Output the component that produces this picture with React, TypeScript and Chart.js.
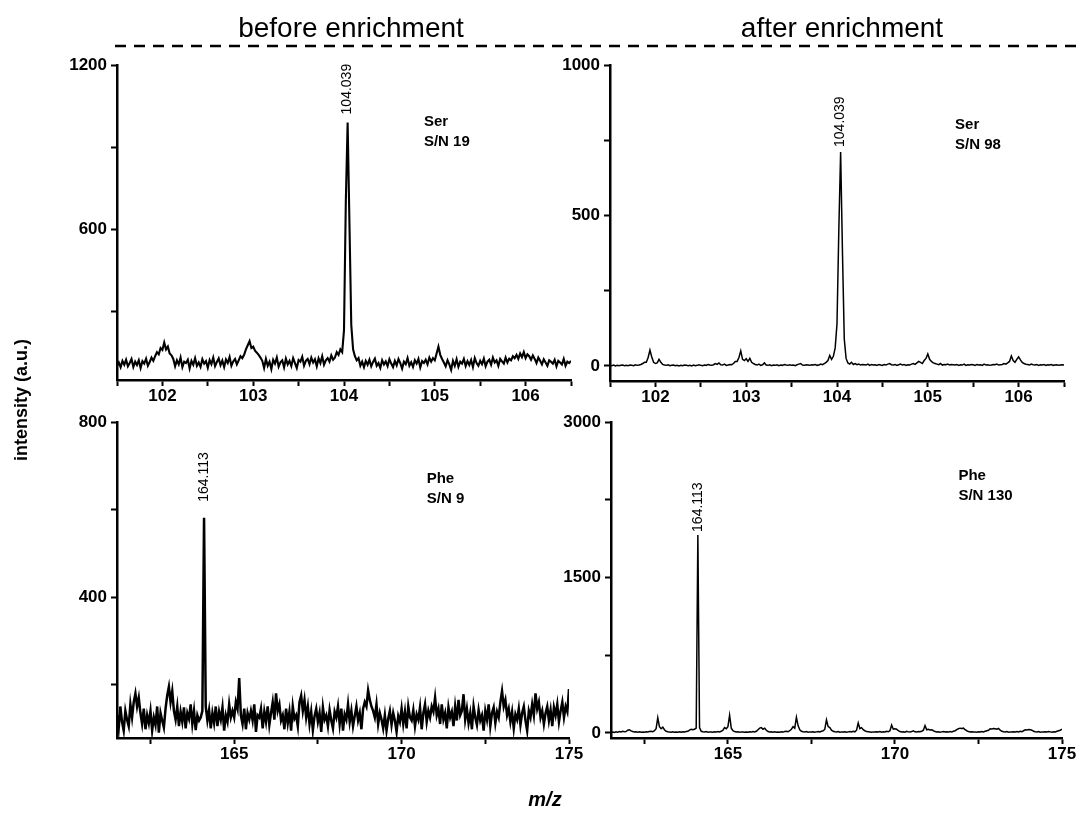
import React, { useEffect, useRef } from 'react';
import { Chart, registerables } from 'chart.js';

Chart.register(...registerables);

const FONT = '"Liberation Sans", Arial, Helvetica, sans-serif';

// ---------------- data ----------------
// Ser, before enrichment: m/z 101.5 .. 106.5, step 0.02
const SER_BEFORE_MZ_START = 101.5;
const SER_BEFORE_MZ_STEP = 0.02;
const SER_BEFORE_INTENSITY = [
  100, 112, 95, 118, 104, 122, 98, 110, 125, 96,
  115, 103, 120, 92, 117, 108, 126, 100, 114, 130,
  118, 135, 150, 142, 165, 158, 185, 160, 170, 145,
  138, 125, 98, 120, 105, 130, 95, 115, 110, 122,
  90, 118, 104, 128, 100, 112, 96, 124, 108, 117,
  93, 121, 106, 130, 99, 114, 127, 102, 119, 95,
  123, 110, 132, 100, 116, 125, 105, 120, 135, 128,
  140, 160, 175, 190, 165, 170, 155, 148, 140, 130,
  118, 92, 125, 100, 115, 88, 122, 108, 130, 97,
  113, 120, 94, 126, 105, 118, 99, 128, 110, 92,
  121, 115, 133, 100, 118, 125, 106, 130, 112, 124,
  98, 127, 110, 135, 104, 120, 128, 115, 138, 122,
  130, 150, 140, 160, 150, 230, 700, 990, 620, 250,
  160, 135, 120, 128, 100, 115, 95, 118, 104, 122,
  98, 114, 126, 100, 110, 92, 120, 105, 116, 99,
  124, 108, 95, 118, 102, 125, 110, 90, 115, 106,
  128, 100, 113, 96, 120, 108, 125, 94, 117, 110,
  122, 105, 130, 115, 128, 120, 145, 170, 140, 125,
  112, 98, 120, 105, 85, 118, 100, 124, 96, 115,
  108, 125, 99, 117, 103, 121, 95, 128, 110, 100,
  118, 106, 126, 98, 115, 122, 104, 130, 112, 120,
  100, 125, 116, 108, 130, 112, 126, 120, 135, 128,
  140, 125, 145, 132, 150, 128, 142, 135, 122, 138,
  125, 110, 130, 118, 105, 124, 112, 100, 120, 115,
  108, 122, 98, 118, 112, 105, 125, 100, 115, 110,
  118,
];

// Ser, after enrichment: m/z 101.5 .. 106.5, step 0.02
const SER_AFTER_MZ_START = 101.5;
const SER_AFTER_MZ_STEP = 0.02;
const SER_AFTER_INTENSITY = [
  2, 1, 3, 0, 2, 1, 2, 3, 1, 2,
  1, 3, 2, 1, 4, 2, 3, 5, 8, 12,
  12, 28, 53, 30, 12, 8, 10, 22, 12, 5,
  3, 2, 4, 1, 2, 3, 1, 2, 0, 2,
  1, 3, 2, 1, 2, 0, 3, 1, 2, 4,
  2, 1, 3, 2, 5, 3, 2, 4, 8, 5,
  10, 4, 3, 6, 2, 3, 5, 4, 8, 15,
  15, 28, 50, 22, 18, 24, 15, 25, 12, 8,
  5, 3, 6, 2, 4, 10, 3, 2, 4, 1,
  3, 2, 4, 1, 3, 2, 5, 3, 2, 4,
  2, 3, 1, 4, 6, 8, 3, 2, 4, 3,
  2, 4, 3, 5, 2, 3, 6, 4, 8, 12,
  18, 35, 22, 32, 60, 140, 450, 711, 380, 90,
  25, 10, 6, 12, 5, 8, 4, 6, 3, 5,
  4, 3, 6, 2, 5, 3, 4, 2, 5, 3,
  2, 5, 3, 6, 8, 4, 3, 5, 2, 4,
  6, 3, 5, 2, 4, 3, 6, 8, 5, 10,
  15, 12, 8, 18, 25, 40, 22, 15, 10, 8,
  6, 4, 8, 3, 5, 4, 6, 3, 5, 4,
  3, 5, 2, 4, 3, 6, 2, 4, 3, 5,
  4, 2, 5, 3, 4, 2, 6, 3, 4, 2,
  3, 5, 4, 6, 3, 4, 5, 8, 6, 10,
  15, 33, 18, 12, 22, 30, 20, 12, 8, 6,
  5, 3, 6, 4, 3, 5, 2, 4, 3, 5,
  2, 4, 3, 5, 2, 3, 4, 2, 3, 4,
  3,
];

// Phe, before enrichment: m/z 161.5 .. 175, step 0.05
const PHE_BEFORE_MZ_START = 161.5;
const PHE_BEFORE_MZ_STEP = 0.05;
const PHE_BEFORE_INTENSITY = [
  130, 100, 150, 115, 95, 140, 120, 105, 155, 125,
  160, 180, 150, 170, 135, 110, 145, 98, 130, 112,
  140, 95, 125, 108, 150, 90, 135, 118, 102, 145,
  175, 195, 160, 185, 140, 120, 150, 105, 138, 115,
  148, 100, 135, 122, 155, 110, 140, 96, 130, 118,
  125, 140, 581, 150, 118, 142, 100, 135, 112, 150,
  105, 138, 120, 148, 95, 130, 115, 155, 125, 140,
  125, 160, 145, 215, 130, 110, 145, 98, 135, 120,
  140, 118, 155, 92, 130, 125, 145, 100, 138, 115,
  150, 108, 135, 160, 120, 180, 140, 155, 118, 130,
  98, 145, 112, 138, 95, 150, 122, 130, 105, 160,
  175, 140, 165, 125, 150, 110, 138, 96, 128, 145,
  115, 135, 92, 148, 120, 130, 105, 142, 118, 100,
  138, 125, 150, 110, 145, 95, 132, 120, 155, 115,
  140, 105, 128, 150, 118, 135, 98, 145, 160, 150,
  187, 165, 150, 140, 125, 155, 110, 135, 120, 100,
  130, 95, 122, 140, 108, 135, 118, 92, 128, 115,
  145, 110, 138, 100, 150, 125, 118, 142, 105, 132,
  120, 148, 98, 135, 155, 115, 140, 125, 150, 138,
  170, 130, 145, 110, 155, 120, 135, 100, 148, 125,
  138, 105, 150, 118, 165, 130, 140, 178, 120, 145,
  112, 135, 98, 150, 125, 108, 142, 118, 130, 95,
  140, 120, 155, 105, 135, 148, 112, 138, 125, 160,
  185, 150, 165, 130, 145, 115, 138, 100, 132, 120,
  145, 108, 135, 150, 118, 95, 140, 125, 155, 130,
  180, 145, 160, 125, 140, 110, 135, 150, 118, 142,
  105, 148, 130, 155, 115, 140, 160, 125, 150, 138,
  190,
];

// Phe, after enrichment: m/z 161.5 .. 175, step 0.05
const PHE_AFTER_MZ_START = 161.5;
const PHE_AFTER_MZ_STEP = 0.05;
const PHE_AFTER_INTENSITY = [
  5, 8, 4, 10, 6, 12, 8, 15, 10, 12,
  25, 30, 18, 12, 8, 10, 6, 9, 5, 8,
  6, 10, 8, 12, 15, 10, 20, 40, 145, 60,
  40, 55, 30, 15, 10, 8, 6, 10, 5, 8,
  6, 9, 5, 10, 8, 12, 15, 25, 35, 30,
  35, 45, 1910, 50, 15, 10, 8, 12, 6, 9,
  8, 5, 10, 7, 12, 9, 15, 25, 50, 40,
  60, 170, 45, 20, 12, 8, 10, 6, 9, 7,
  5, 8, 6, 10, 7, 12, 9, 15, 30, 45,
  50, 35, 45, 25, 12, 8, 10, 6, 9, 5,
  8, 6, 10, 7, 12, 15, 10, 20, 35, 60,
  45, 150, 70, 30, 15, 10, 8, 12, 6, 9,
  7, 10, 6, 9, 12, 8, 15, 20, 35, 125,
  60, 50, 25, 15, 10, 8, 12, 6, 9, 7,
  10, 6, 9, 12, 8, 15, 10, 25, 95, 40,
  50, 30, 20, 12, 10, 8, 6, 9, 7, 10,
  8, 12, 6, 10, 9, 15, 10, 20, 75, 35,
  40, 35, 20, 12, 8, 10, 6, 15, 9, 7,
  12, 20, 10, 8, 12, 10, 15, 25, 70, 30,
  35, 28, 30, 20, 12, 8, 10, 6, 9, 12,
  8, 10, 7, 12, 9, 15, 20, 30, 40, 45,
  42, 45, 30, 20, 12, 8, 10, 7, 9, 6,
  10, 8, 12, 9, 15, 20, 25, 40, 38, 42,
  40, 35, 42, 25, 15, 10, 8, 12, 6, 9,
  7, 10, 8, 12, 9, 15, 10, 20, 30, 28,
  32, 30, 25, 15, 10, 8, 12, 6, 9, 7,
  10, 8, 12, 9, 6, 10, 8, 15, 20, 25,
  35,
];

// axis ticks and labels
const SER_X_TICKS = [101.5, 102, 102.5, 103, 103.5, 104, 104.5, 105, 105.5, 106, 106.5];
const SER_X_LABELS = [102, 103, 104, 105, 106];
const PHE_X_TICKS = [162.5, 165, 167.5, 170, 172.5, 175];
const PHE_X_LABELS = [165, 170, 175];
const SER_BEFORE_Y_TICKS = [300, 600, 900, 1200];
const SER_BEFORE_Y_LABELS = [600, 1200];
const SER_AFTER_Y_TICKS = [0, 250, 500, 750, 1000];
const SER_AFTER_Y_LABELS = [0, 500, 1000];
const PHE_BEFORE_Y_TICKS = [200, 400, 600, 800];
const PHE_BEFORE_Y_LABELS = [400, 800];
const PHE_AFTER_Y_TICKS = [0, 750, 1500, 2250, 3000];
const PHE_AFTER_Y_LABELS = [0, 1500, 3000];

// annotations
const PEAK_MZ = [104.039, 104.039, 164.113, 164.113];
const PEAK_LABELS = ['104.039', '104.039', '164.113', '164.113'];
const ANALYTES = ['Ser', 'Ser', 'Phe', 'Phe'];
const SN_VALUES = [19, 98, 9, 130];
const PANEL_TITLES = ['before enrichment', 'after enrichment'];
const Y_AXIS_TITLE = 'intensity (a.u.)';
const X_AXIS_TITLE = 'm/z';

// ---------------- layout ----------------
const YW = 70; // y-axis box width
const XH = 40; // x-axis box height
const PAD_T = 20;
const PAD_R = 22;

type Panel = {
  key: string;
  start: number;
  step: number;
  values: number[];
  xMin: number; xMax: number; yMin: number; yMax: number;
  xTicks: number[]; xLabels: number[];
  yTicks: number[]; yLabels: number[];
  peakMz: number; peakLabel: string; labelGap: number;
  analyte: string; sn: number;
  noteX: number; noteY: number;
  area: { left: number; top: number; right: number; bottom: number };
  lineWidth: number;
};

const PANELS: Panel[] = [
  {
    key: 'serBefore', start: SER_BEFORE_MZ_START, step: SER_BEFORE_MZ_STEP, values: SER_BEFORE_INTENSITY,
    xMin: 101.5, xMax: 106.5, yMin: 48, yMax: 1200,
    xTicks: SER_X_TICKS, xLabels: SER_X_LABELS, yTicks: SER_BEFORE_Y_TICKS, yLabels: SER_BEFORE_Y_LABELS,
    peakMz: PEAK_MZ[0], peakLabel: PEAK_LABELS[0], labelGap: 8,
    analyte: ANALYTES[0], sn: SN_VALUES[0], noteX: 104.88, noteY: 991,
    area: { left: 117, top: 65, right: 571, bottom: 380 }, lineWidth: 2.1,
  },
  {
    key: 'serAfter', start: SER_AFTER_MZ_START, step: SER_AFTER_MZ_STEP, values: SER_AFTER_INTENSITY,
    xMin: 101.5, xMax: 106.5, yMin: -50, yMax: 1000,
    xTicks: SER_X_TICKS, xLabels: SER_X_LABELS, yTicks: SER_AFTER_Y_TICKS, yLabels: SER_AFTER_Y_LABELS,
    peakMz: PEAK_MZ[1], peakLabel: PEAK_LABELS[1], labelGap: 5,
    analyte: ANALYTES[1], sn: SN_VALUES[1], noteX: 105.3, noteY: 801,
    area: { left: 610, top: 65, right: 1064, bottom: 381 }, lineWidth: 1.5,
  },
  {
    key: 'pheBefore', start: PHE_BEFORE_MZ_START, step: PHE_BEFORE_MZ_STEP, values: PHE_BEFORE_INTENSITY,
    xMin: 161.5, xMax: 175, yMin: 78, yMax: 800,
    xTicks: PHE_X_TICKS, xLabels: PHE_X_LABELS, yTicks: PHE_BEFORE_Y_TICKS, yLabels: PHE_BEFORE_Y_LABELS,
    peakMz: PEAK_MZ[2], peakLabel: PEAK_LABELS[2], labelGap: 16,
    analyte: ANALYTES[2], sn: SN_VALUES[2], noteX: 170.75, noteY: 670,
    area: { left: 117, top: 422, right: 569, bottom: 738 }, lineWidth: 2.5,
  },
  {
    key: 'pheAfter', start: PHE_AFTER_MZ_START, step: PHE_AFTER_MZ_STEP, values: PHE_AFTER_INTENSITY,
    xMin: 161.5, xMax: 175, yMin: -50, yMax: 3000,
    xTicks: PHE_X_TICKS, xLabels: PHE_X_LABELS, yTicks: PHE_AFTER_Y_TICKS, yLabels: PHE_AFTER_Y_LABELS,
    peakMz: PEAK_MZ[3], peakLabel: PEAK_LABELS[3], labelGap: 3,
    analyte: ANALYTES[3], sn: SN_VALUES[3], noteX: 171.9, noteY: 2479,
    area: { left: 611, top: 422, right: 1062, bottom: 738 }, lineWidth: 1.5,
  },
];

const hasValue = (list: number[], v: number) => list.some((x) => Math.abs(x - v) < 1e-6);

function SpectrumPanel({ cfg }: { cfg: Panel }) {
  const ref = useRef<HTMLCanvasElement | null>(null);
  const width = cfg.area.right - cfg.area.left + YW + PAD_R;
  const height = cfg.area.bottom - cfg.area.top + PAD_T + XH;

  useEffect(() => {
    const canvas = ref.current;
    if (!canvas) return;
    const points = cfg.values.map((v, i) => ({ x: cfg.start + i * cfg.step, y: v }));
    const peakTop = Math.max(...cfg.values);

    const annot = {
      id: 'annot_' + cfg.key,
      afterDatasetsDraw(chart: any) {
        const { ctx, scales } = chart;
        const px = scales.x.getPixelForValue(cfg.peakMz);
        const py = scales.y.getPixelForValue(peakTop);
        ctx.save();
        ctx.fillStyle = '#000';
        ctx.font = `14px ${FONT}`;
        ctx.translate(px, py - cfg.labelGap);
        ctx.rotate(-Math.PI / 2);
        ctx.textAlign = 'left';
        ctx.textBaseline = 'middle';
        ctx.fillText(cfg.peakLabel, 0, 0);
        ctx.restore();

        ctx.save();
        ctx.fillStyle = '#000';
        ctx.font = `bold 15px ${FONT}`;
        ctx.textAlign = 'left';
        ctx.textBaseline = 'middle';
        const ax = scales.x.getPixelForValue(cfg.noteX);
        const ay = scales.y.getPixelForValue(cfg.noteY);
        ctx.fillText(cfg.analyte, ax, ay);
        ctx.fillText('S/N ' + cfg.sn, ax, ay + 20);
        ctx.restore();
      },
    };

    const tickFont = { family: FONT, size: 17, weight: 'bold' as const };

    const chart = new Chart(canvas, {
      type: 'line',
      data: {
        datasets: [
          {
            data: points,
            borderColor: '#000',
            borderWidth: cfg.lineWidth,
            borderJoinStyle: 'miter',
            pointRadius: 0,
            tension: 0,
            fill: false,
          },
        ],
      },
      options: {
        animation: false,
        responsive: false,
        devicePixelRatio: 1,
        parsing: false,
        normalized: true,
        events: [],
        layout: { padding: { left: 0, top: PAD_T, right: PAD_R, bottom: 0 } },
        plugins: {
          legend: { display: false },
          tooltip: { enabled: false },
          title: { display: false },
        },
        scales: {
          x: {
            type: 'linear',
            min: cfg.xMin,
            max: cfg.xMax,
            afterBuildTicks: (s: any) => {
              s.ticks = cfg.xTicks.map((v) => ({ value: v }));
            },
            afterFit: (s: any) => {
              s.height = XH;
            },
            ticks: {
              autoSkip: false,
              maxRotation: 0,
              minRotation: 0,
              padding: 0,
              color: '#000',
              font: tickFont,
              callback: (v: any) => (hasValue(cfg.xLabels, Number(v)) ? String(v) : ''),
            },
            grid: {
              drawOnChartArea: false,
              drawTicks: true,
              tickLength: 6,
              tickWidth: 2,
              tickColor: '#000',
            },
            border: { display: true, color: '#000', width: 2.5 },
          },
          y: {
            type: 'linear',
            min: cfg.yMin,
            max: cfg.yMax,
            afterBuildTicks: (s: any) => {
              s.ticks = cfg.yTicks.map((v) => ({ value: v }));
            },
            afterFit: (s: any) => {
              s.width = YW;
            },
            ticks: {
              autoSkip: false,
              padding: 4,
              color: '#000',
              font: tickFont,
              callback: (v: any) => (hasValue(cfg.yLabels, Number(v)) ? String(v) : ''),
            },
            grid: {
              drawOnChartArea: false,
              drawTicks: true,
              tickLength: 6,
              tickWidth: 2,
              tickColor: '#000',
            },
            border: { display: true, color: '#000', width: 2.5 },
          },
        },
      } as any,
      plugins: [annot],
    });
    return () => chart.destroy();
  }, [cfg]);

  return (
    <canvas
      ref={ref}
      width={width}
      height={height}
      style={{
        position: 'absolute',
        left: cfg.area.left - YW,
        top: cfg.area.top - PAD_T,
        width,
        height,
      }}
    />
  );
}

export default function App() {
  return (
    <div
      style={{
        position: 'fixed',
        left: 0,
        top: 0,
        width: 1084,
        height: 821,
        background: '#fff',
        overflow: 'hidden',
        fontFamily: FONT,
      }}
    >
      {PANELS.map((p) => (
        <SpectrumPanel key={p.key} cfg={p} />
      ))}
      <svg
        width={1084}
        height={821}
        style={{ position: 'absolute', left: 0, top: 0, pointerEvents: 'none' }}
      >
        <line x1={115} y1={46} x2={1084} y2={46} stroke="#000" strokeWidth={2.5} strokeDasharray="11 8" />
        <text x={351} y={37} textAnchor="middle" fontFamily={FONT} fontSize={28} fill="#000">
          {PANEL_TITLES[0]}
        </text>
        <text x={842} y={37} textAnchor="middle" fontFamily={FONT} fontSize={28} fill="#000">
          {PANEL_TITLES[1]}
        </text>
        <text
          transform="translate(21,400) rotate(-90)"
          textAnchor="middle"
          dominantBaseline="central"
          fontFamily={FONT}
          fontSize={18}
          fontWeight="bold"
          fill="#000"
        >
          {Y_AXIS_TITLE}
        </text>
        <text
          x={545}
          y={806}
          textAnchor="middle"
          fontFamily={FONT}
          fontSize={20}
          fontWeight="bold"
          fontStyle="italic"
          fill="#000"
        >
          {X_AXIS_TITLE}
        </text>
      </svg>
    </div>
  );
}
